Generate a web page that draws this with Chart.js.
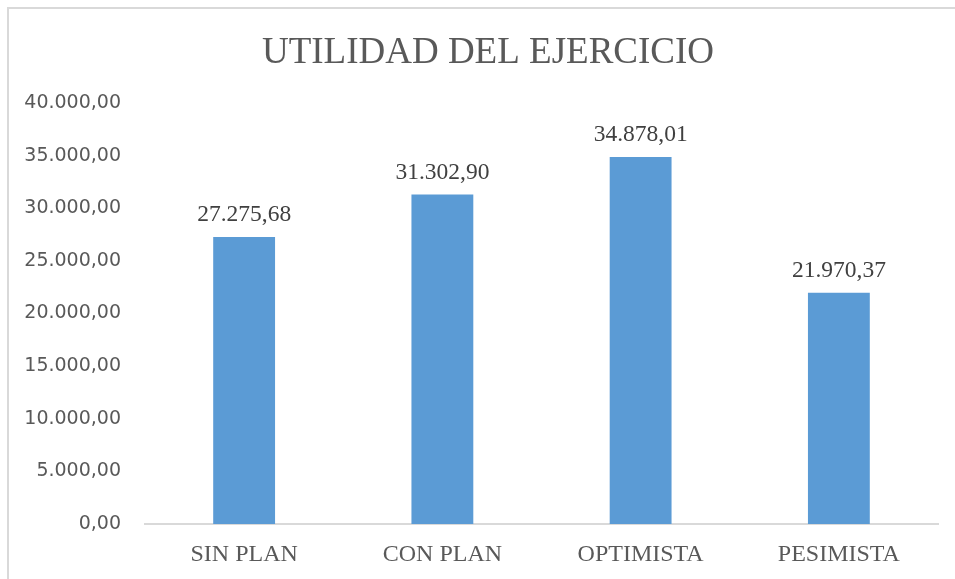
<!DOCTYPE html>
<html>
<head>
<meta charset="utf-8">
<title>Utilidad del ejercicio</title>
<script src="https://cdn.jsdelivr.net/npm/chart.js@4/dist/chart.umd.min.js"></script>
<style>
  html, body { margin: 0; padding: 0; background: #ffffff; }
  #wrap { position: relative; width: 955px; height: 579px; overflow: hidden; }
  #frame {
    position: absolute; left: 7px; top: 7px; width: 980px; height: 600px;
    border: 2px solid #d9d9d9; box-sizing: border-box; pointer-events: none;
  }
  canvas { position: absolute; left: 0; top: 0; }
</style>
</head>
<body>
<div id="wrap">
  <canvas id="chart" width="955" height="579"></canvas>
  <div id="frame"></div>
</div>
<script>
// Escenarios y utilidad del ejercicio de cada uno
const categories = ['SIN PLAN', 'CON PLAN', 'OPTIMISTA', 'PESIMISTA'];
const utilidad = [27275.68, 31302.90, 34878.01, 21970.37];
const chartTitle = 'UTILIDAD DEL EJERCICIO';
const yMin = 0;
const yMax = 40000;
const yStep = 5000;

// Formato numérico con punto de miles y coma decimal: 40.000,00
function formatNumber(v) {
  const fixed = Math.abs(v).toFixed(2);
  const parts = fixed.split('.');
  const intPart = parts[0].replace(/\B(?=(\d{3})+(?!\d))/g, '.');
  return (v < 0 ? '-' : '') + intPart + ',' + parts[1];
}

// Título centrado sobre el marco del gráfico
const frameTitle = {
  id: 'frameTitle',
  afterDraw(chart) {
    const ctx = chart.ctx;
    ctx.save();
    ctx.font = '37px "Liberation Serif", "Times New Roman", serif';
    ctx.fillStyle = '#595959';
    ctx.textAlign = 'center';
    ctx.textBaseline = 'alphabetic';
    ctx.fillText(chartTitle, 488, 63);
    ctx.restore();
  }
};

// Etiquetas de valor sobre cada barra
const valueLabels = {
  id: 'valueLabels',
  afterDatasetsDraw(chart) {
    const ctx = chart.ctx;
    const meta = chart.getDatasetMeta(0);
    const data = chart.data.datasets[0].data;
    ctx.save();
    ctx.font = '23.5px "Liberation Serif", "Times New Roman", serif';
    ctx.fillStyle = '#404040';
    ctx.textAlign = 'center';
    ctx.textBaseline = 'alphabetic';
    meta.data.forEach((bar, i) => {
      ctx.fillText(formatNumber(data[i]), bar.x, bar.y - 16);
    });
    ctx.restore();
  }
};

new Chart(document.getElementById('chart'), {
  type: 'bar',
  data: {
    labels: categories,
    datasets: [{
      data: utilidad,
      backgroundColor: '#5b9bd5',
      borderWidth: 0,
      categoryPercentage: 1,
      barPercentage: 0.312
    }]
  },
  options: {
    responsive: false,
    animation: false,
    devicePixelRatio: 1,
    layout: { padding: { left: 0, right: 17, top: 103, bottom: 0 } },
    plugins: {
      legend: { display: false },
      tooltip: { enabled: false },
      title: { display: false }
    },
    scales: {
      x: {
        grid: { display: false, drawTicks: false },
        border: { display: true, color: '#d9d9d9', width: 2 },
        ticks: {
          color: '#595959',
          padding: 16,
          font: { family: '"Liberation Serif", "Times New Roman", serif', size: 24 }
        },
        afterFit(scale) { scale.height = 55; }
      },
      y: {
        min: yMin,
        max: yMax,
        grid: { display: false, drawTicks: false },
        border: { display: false },
        ticks: {
          stepSize: yStep,
          color: '#595959',
          padding: 24,
          font: { family: '"DejaVu Sans", sans-serif', size: 19 },
          callback: (v) => formatNumber(v)
        },
        afterFit(scale) { scale.width = 145; }
      }
    }
  },
  plugins: [valueLabels, frameTitle]
});
</script>
</body>
</html>
